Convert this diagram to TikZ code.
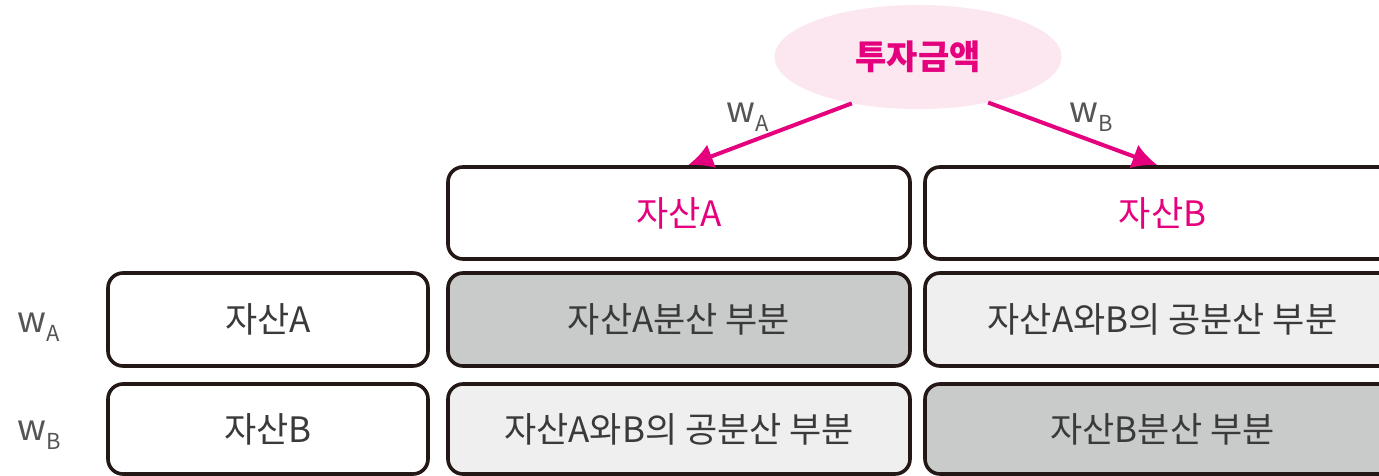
\documentclass[tikz,border=0pt]{standalone}
\usepackage{fontspec}
\setmainfont{Noto Sans CJK KR}
\usetikzlibrary{shapes.geometric,arrows.meta}
\definecolor{mag}{HTML}{E5007E}
\definecolor{pinkfill}{HTML}{FCE6EF}
\definecolor{edge}{HTML}{231815}
\definecolor{txt}{HTML}{3A3A3A}
\definecolor{darkfill}{HTML}{C9CACA}
\definecolor{lightfill}{HTML}{EFEFEF}
\definecolor{wlab}{HTML}{555555}
\tikzset{
  cell/.style={draw=edge, line width=3.6pt, rounded corners=15pt, minimum height=92pt,
    inner sep=0pt, font=\fontsize{35}{35}\selectfont, text=txt},
  hdr/.style={cell, fill=white, text=mag},
  dk/.style={cell, fill=darkfill},
  lt/.style={cell, fill=lightfill},
  wh/.style={cell, fill=white},
  conn/.style={draw=mag, line width=4pt, -{Latex[length=25pt,width=25pt]}},
  wl/.style={text=wlab, inner sep=0pt, font=\fontsize{36}{36}\selectfont}
}
\newcommand{\wsub}[1]{w{\fontsize{22}{22}\selectfont\raisebox{-9pt}{#1}}}
\begin{document}
\begin{tikzpicture}[x=1pt,y=-1pt]
\clip (0,0) rectangle (1379,476);
\fill[white] (0,0) rectangle (1379,476);
% investment ellipse
\node[ellipse, fill=pinkfill, minimum width=287pt, minimum height=104pt, inner sep=0pt,
  text=mag, font=\fontsize{34}{34}\selectfont\bfseries] (inv) at (918,57) {투자금액};
% header row
\node[hdr, minimum width=462pt] (ha) at (679,213) {자산A};
\node[hdr, minimum width=475pt] (hb) at (1162.5,213) {자산B};
% row A
\node[wh, minimum width=320pt, minimum height=93pt] (ra) at (268,319.5) {자산A};
\node[dk, minimum width=462pt, minimum height=93pt] (aa) at (679,319.5) {자산A분산 부분};
\node[lt, minimum width=475pt, minimum height=93pt] (ab) at (1162.5,319.5) {자산A와B의 공분산 부분};
% row B
\node[wh, minimum width=320pt, minimum height=90pt] (rb) at (268,429) {자산B};
\node[lt, minimum width=462pt, minimum height=90pt] (ba) at (679,429) {자산A와B의 공분산 부분};
\node[dk, minimum width=475pt, minimum height=90pt] (bb) at (1162.5,429) {자산B분산 부분};
% arrows
\draw[conn] (inv.215) -- ([xshift=9pt]ha.north);
\draw[conn] (inv.327) -- ([xshift=-5pt]hb.north);
% weight labels
\node[wl, anchor=base west] (la) at (726,123) {\wsub{A}};
\node[wl, anchor=base west] (lb) at (1069,123) {\wsub{B}};
\node[wl, anchor=base west] (lra) at (17,332) {\wsub{A}};
\node[wl, anchor=base west] (lrb) at (17,440) {\wsub{B}};
\end{tikzpicture}
\end{document}
